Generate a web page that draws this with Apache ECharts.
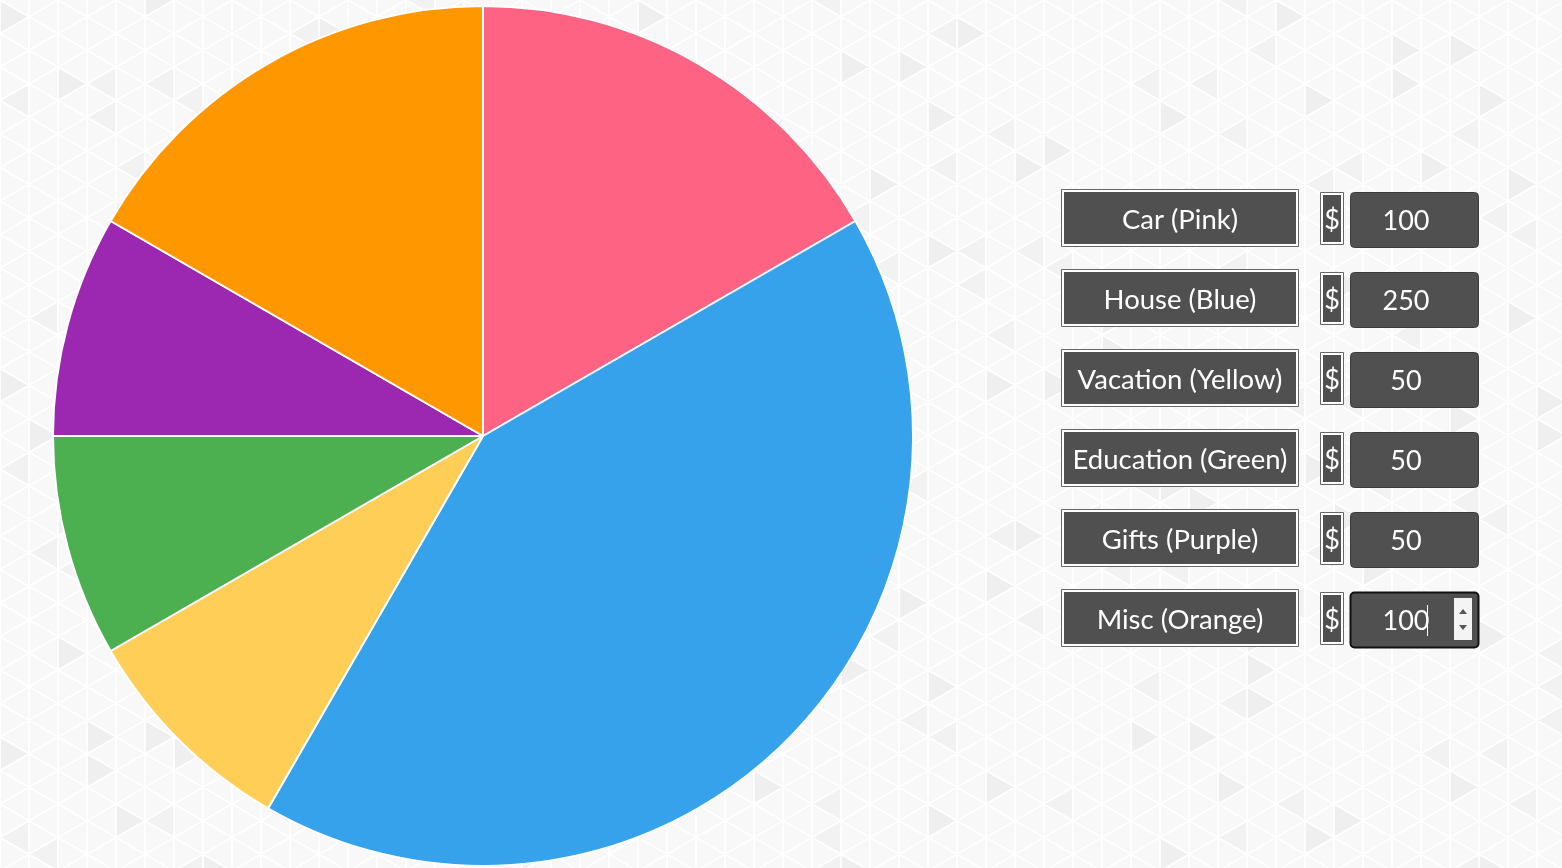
<!DOCTYPE html>
<html>
<head>
<meta charset="utf-8">
<script src="https://cdn.jsdelivr.net/npm/echarts@6/dist/echarts.min.js"></script>
<style>
  html, body { margin: 0; padding: 0; width: 1562px; height: 868px; overflow: hidden; background: #f8f8f8; }
  #main { width: 1562px; height: 868px; }
</style>
</head>
<body>
<div id="main"></div>
<script>
// budget data
var categories = ['Car (Pink)', 'House (Blue)', 'Vacation (Yellow)', 'Education (Green)', 'Gifts (Purple)', 'Misc (Orange)'];
var amounts = [100, 250, 50, 50, 50, 100];
var colors = ['#FF6384', '#36A2EB', '#FFCE56', '#4CAF50', '#9C27B0', '#FF9800'];

// triangle background (decoration only)
function buildBackground() {
    var w = 29, s = 33.5, cols = 56, rows = 28;
    var svg = '<svg xmlns="http://www.w3.org/2000/svg" width="1562" height="868">';
    svg += '<rect width="1562" height="868" fill="#f8f8f8"/>';
    for (var c = 0; c < cols; c++) {
        var x0 = c * w, x1 = x0 + w;
        var off = (c % 2) ? s / 2 : 0;
        for (var k = -1; k < rows; k++) {
            var h = (c * 7 + k * 13 + (c * k) % 5) % 11;
            if (h === 0 || h === 4) {
                var yl = k * s + off, yr = yl + s / 2;
                var pts = h === 0
                    ? [x0, yl, x0, yl + s, x1, yr]
                    : [x1, yr, x1, yr + s, x0, yl + s];
                svg += '<polygon points="' + pts.join(',') + '" fill="' + (h === 0 ? '#efefef' : '#f2f2f2') + '"/>';
            }
        }
    }
    var g = '';
    for (var c2 = 0; c2 <= cols; c2++) {
        g += 'M' + (c2 * w) + ' 0V868';
    }
    for (var k2 = -60; k2 < 60; k2++) {
        var y = k2 * s;
        g += 'M0 ' + y + 'L1624 ' + (y + 1624 * s / 2 / w);
        g += 'M0 ' + y + 'L1624 ' + (y - 1624 * s / 2 / w);
    }
    svg += '<path d="' + g + '" stroke="#ffffff" stroke-width="1.6" fill="none"/>';
    svg += '</svg>';
    document.body.style.background = 'url("data:image/svg+xml;charset=utf-8,' + encodeURIComponent(svg) + '")';
}
buildBackground();

var chart = echarts.init(document.getElementById('main'));

var font = 'Lato, "Open Sans", sans-serif';
var graphics = [];
categories.forEach(function (name, i) {
    var top = 189 + i * 80;
    // label box
    graphics.push({
        type: 'rect', shape: { x: 1061.5, y: top + 0.5, width: 237, height: 57 },
        style: { fill: '#ffffff', stroke: '#666', lineWidth: 1 }
    });
    graphics.push({
        type: 'rect', shape: { x: 1064, y: top + 3, width: 232, height: 52 },
        style: { fill: '#505050' }
    });
    graphics.push({
        type: 'text', x: 1180, y: top + 31,
        style: { text: name, fill: '#fff', font: '27.5px ' + font, align: 'center', verticalAlign: 'middle' }
    });
    // dollar box
    graphics.push({
        type: 'rect', shape: { x: 1320.5, y: top + 3.5, width: 23, height: 52 },
        style: { fill: '#ffffff', stroke: '#666', lineWidth: 1 }
    });
    graphics.push({
        type: 'rect', shape: { x: 1323, y: top + 6, width: 18, height: 47 },
        style: { fill: '#505050' }
    });
    graphics.push({
        type: 'text', x: 1332, y: top + 31,
        style: { text: '$', fill: '#fff', font: '27px ' + font, align: 'center', verticalAlign: 'middle' }
    });
    // input box
    var last = i === categories.length - 1;
    graphics.push({
        type: 'rect', shape: { x: 1350.5, y: top + 3.5, width: 128, height: 55, r: 4 },
        style: { fill: '#505050', stroke: last ? '#111' : '#3a3a3a', lineWidth: last ? 2 : 1 }
    });
    graphics.push({
        type: 'text', x: 1406, y: top + 32,
        style: { text: String(amounts[i]), fill: '#fff', font: '27px ' + font, align: 'center', verticalAlign: 'middle' }
    });
    if (last) {
        graphics.push({
            type: 'line', shape: { x1: 1427.5, y1: top + 16, x2: 1427.5, y2: top + 47 },
            style: { stroke: '#fff', lineWidth: 1 }
        });
        graphics.push({
            type: 'rect', shape: { x: 1454, y: top + 9, width: 18, height: 42 },
            style: { fill: '#f4f4f4' }
        });
        graphics.push({
            type: 'polygon', shape: { points: [[1459, top + 25], [1467, top + 25], [1463, top + 20]] },
            style: { fill: '#555' }
        });
        graphics.push({
            type: 'polygon', shape: { points: [[1459, top + 36], [1467, top + 36], [1463, top + 41]] },
            style: { fill: '#555' }
        });
    }
});

chart.setOption({
    backgroundColor: 'transparent',
    animation: false,
    color: colors,
    graphic: graphics,
    series: [{
        type: 'pie',
        center: [483, 436],
        radius: 430,
        startAngle: 90,
        clockwise: true,
        label: { show: false },
        labelLine: { show: false },
        emphasis: { disabled: true },
        itemStyle: { borderColor: '#ffffff', borderWidth: 2 },
        data: categories.map(function (name, i) {
            return { name: name, value: amounts[i] };
        })
    }]
});
</script>
</body>
</html>
